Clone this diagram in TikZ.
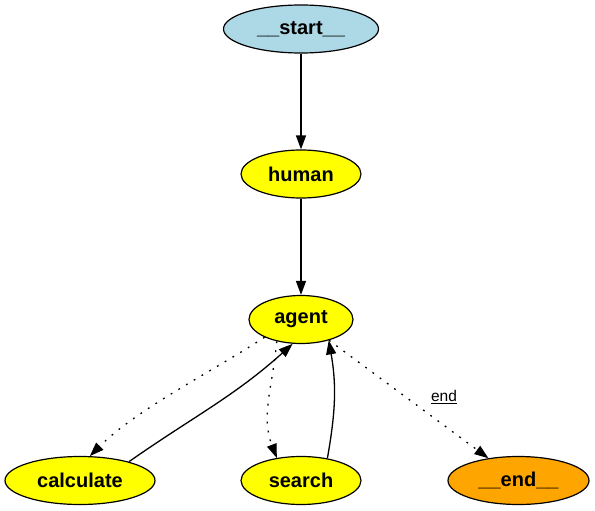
\documentclass[tikz,border=0pt]{standalone}
\usepackage{fontspec}
\setmainfont{Liberation Sans}
\usetikzlibrary{arrows.meta,shapes.geometric}
\definecolor{lblue}{HTML}{ADD8E6}
\definecolor{nyellow}{HTML}{FFFF00}
\definecolor{norange}{HTML}{FFA500}
\begin{document}
\begin{tikzpicture}[x=1pt,y=-1pt,
  state/.style={ellipse, draw, line width=1.2pt, inner sep=0pt, minimum height=48pt,
    font=\fontsize{20}{20}\selectfont\bfseries},
  edge/.style={line width=1.3pt, -{Triangle[length=14pt,width=10pt]}},
  dotedge/.style={edge, dash pattern=on 1.8pt off 7.2pt},
  lbl/.style={inner sep=0pt, font=\fontsize{15.5}{16}\selectfont}]
\useasboundingbox (0,0) rectangle (595,511);
\node[state, fill=lblue, minimum width=155pt] (start) at (301,29) {\_\_start\_\_};
\node[state, fill=nyellow, minimum width=120pt] (human) at (301,174) {human};
\node[state, fill=nyellow, minimum width=104pt] (agent) at (301,319.5) {agent};
\node[state, fill=nyellow, minimum width=150pt] (calculate) at (80,480.5) {calculate};
\node[state, fill=nyellow, minimum width=120pt] (search) at (301,480.5) {search};
\node[state, fill=norange, minimum width=141pt] (end) at (518.5,480.5) {\_\_end\_\_};
\node[lbl] (endlbl) at (444,397) {\underline{end}};
\draw[edge] (start) -- (human);
\draw[edge] (human) -- (agent);
\draw[dotedge] (agent.206) to[out=213,in=45,looseness=0.8] (calculate.68);
\draw[edge] (calculate.21) to[out=35,in=222] (agent.251);
\draw[dotedge] (agent.222) to[out=265,in=111] (search.137);
\draw[edge] (search.40) to[out=80,in=280] (agent.323);
\draw[dotedge] (agent) -- (end);
\end{tikzpicture}
\end{document}
